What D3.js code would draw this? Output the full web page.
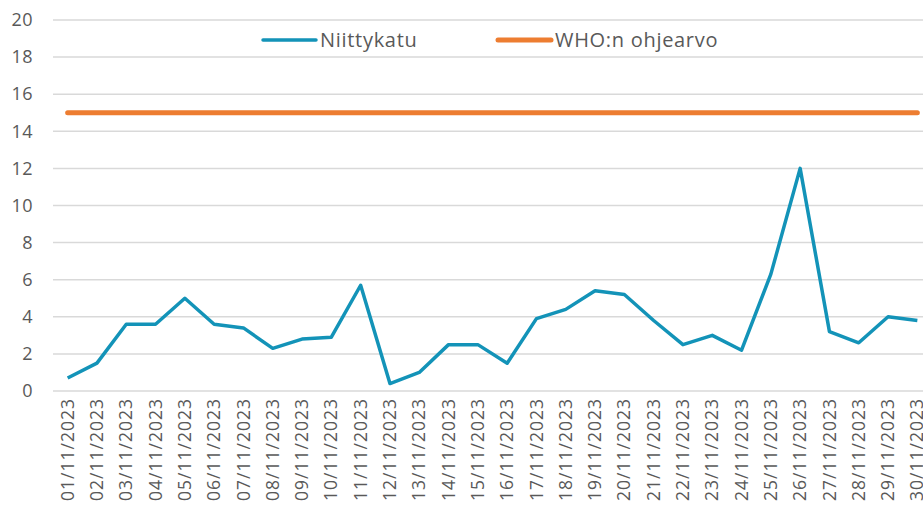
<!DOCTYPE html>
<html>
<head>
<meta charset="utf-8">
<script src="https://cdn.jsdelivr.net/npm/d3@7"></script>
<style>
  body { margin: 0; background: #fff; }
  .axis text { font-family: "Open Sans", sans-serif; fill: #595959; }
  .legend text { font-family: "Open Sans", sans-serif; fill: #595959; }
</style>
</head>
<body>
<div class="chart"></div>
<script>
// Data
const dates = [];
for (let d = 1; d <= 30; d++) dates.push(String(d).padStart(2, "0") + "/11/2023");
const niittykatu = [0.7, 1.5, 3.6, 3.6, 5.0, 3.6, 3.4, 2.3, 2.8, 2.9,
  5.7, 0.4, 1.0, 2.5, 2.5, 1.5, 3.9, 4.4, 5.4, 5.2,
  3.8, 2.5, 3.0, 2.2, 6.3, 12.0, 3.2, 2.6, 4.0, 3.8];
const whoLimit = dates.map(() => 15);
const yTicks = [0, 2, 4, 6, 8, 10, 12, 14, 16, 18, 20];

const width = 923, height = 514;
const margin = {top: 20, left: 53, bottom: 123};
const plotW = 879;

const svg = d3.select(".chart").append("svg")
  .attr("width", width)
  .attr("height", height);

const x = d3.scaleBand().domain(dates).range([margin.left, margin.left + plotW]);
const y = d3.scaleLinear().domain([0, 20]).range([height - margin.bottom, margin.top]);

// grid
svg.append("g").selectAll("line").data(yTicks).enter().append("line")
  .attr("x1", margin.left).attr("x2", width)
  .attr("y1", d => y(d)).attr("y2", d => y(d))
  .attr("stroke", "#d9d9d9").attr("stroke-width", 1.5);

// y axis
const gy = svg.append("g").attr("class", "axis")
  .attr("transform", `translate(${margin.left - 14},0)`)
  .call(d3.axisLeft(y).tickValues(yTicks).tickSize(0).tickPadding(6));
gy.select(".domain").remove();
gy.selectAll("text").style("font-size", "18px").style("letter-spacing", "0.5px");

// x axis
const gx = svg.append("g").attr("class", "axis")
  .attr("transform", `translate(0,${y(0)})`)
  .call(d3.axisBottom(x).tickSize(0).tickPadding(0));
gx.select(".domain").remove();
gx.selectAll("text")
  .style("font-size", "17.5px")
  .style("letter-spacing", "1px")
  .attr("text-anchor", "end")
  .attr("dy", "0.35em")
  .attr("transform", "translate(0,7) rotate(-90)")
  .attr("y", 0).attr("x", 0);

// lines
const line = d3.line()
  .x((d, i) => x(dates[i]) + x.bandwidth() / 2)
  .y(d => y(d));

svg.append("path").datum(whoLimit)
  .attr("fill", "none").attr("stroke", "#ed7d31")
  .attr("stroke-width", 5).attr("stroke-linecap", "round")
  .attr("d", line);

svg.append("path").datum(niittykatu)
  .attr("fill", "none").attr("stroke", "#1393b8")
  .attr("stroke-width", 3.5).attr("stroke-linejoin", "round")
  .attr("d", line);

// legend
const legendItems = [
  {name: "Niittykatu", color: "#1393b8", w: 3.5, x: 263},
  {name: "WHO:n ohjearvo", color: "#ed7d31", w: 5, x: 498}
];
const legend = svg.append("g").attr("class", "legend");
const li = legend.selectAll("g").data(legendItems).enter().append("g")
  .attr("transform", d => `translate(${d.x},40)`);
li.append("line")
  .attr("x1", 0).attr("x2", 53)
  .attr("stroke", d => d.color).attr("stroke-width", d => d.w)
  .attr("stroke-linecap", "round");
li.append("text")
  .attr("x", 57).attr("dy", "0.35em")
  .style("font-size", "20px")
  .style("letter-spacing", "0.7px")
  .text(d => d.name);
</script>
</body>
</html>
